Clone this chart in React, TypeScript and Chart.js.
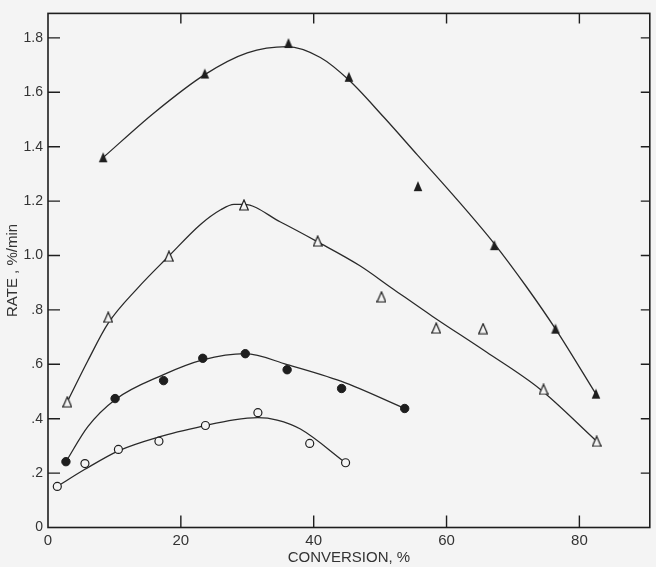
import { useEffect, useRef } from 'react';
import { Chart, registerables } from 'chart.js';

Chart.register(...registerables);

// Axis tick labels
const X_TICK_LABELS = ['0', '20', '40', '60', '80'];
const Y_TICK_LABELS = ['0', '.2', '.4', '.6', '.8', '1.0', '1.2', '1.4', '1.6', '1.8'];

// Filled triangles
const FILLED_TRI_X = [8.3, 23.6, 36.2, 45.3, 55.7, 67.2, 76.4, 82.5];
const FILLED_TRI_Y = [1.361, 1.669, 1.781, 1.657, 1.255, 1.038, 0.731, 0.492];
// Open triangles
const OPEN_TRI_X = [2.9, 9.07, 18.2, 29.5, 40.6, 50.2, 58.45, 65.5, 74.6, 82.6];
const OPEN_TRI_Y = [0.462, 0.773, 0.997, 1.186, 1.053, 0.848, 0.733, 0.731, 0.508, 0.317];
// Filled circles
const FILLED_CIR_X = [2.7, 10.1, 17.4, 23.3, 29.7, 36.0, 44.2, 53.7];
const FILLED_CIR_Y = [0.242, 0.474, 0.54, 0.622, 0.639, 0.58, 0.511, 0.4375];
// Open circles
const OPEN_CIR_X = [1.4, 5.56, 10.6, 16.7, 23.7, 31.6, 39.4, 44.8];
const OPEN_CIR_Y = [0.151, 0.235, 0.287, 0.317, 0.375, 0.422, 0.309, 0.238];

// Hand-drawn fitted curves
const CURVE_A_X = [8.3, 16, 23.6, 30, 36, 41, 45.3, 50.5, 55.6, 61, 67.2, 72, 76.4, 82.5];
const CURVE_A_Y = [1.36, 1.525, 1.665, 1.745, 1.768, 1.728, 1.645, 1.51, 1.37, 1.222, 1.043, 0.886, 0.73, 0.49];
const CURVE_B_X = [2.9, 6, 9.07, 13.5, 18.2, 23, 26, 28, 29.5, 35, 40.6, 46.9, 52, 57.9, 66, 74, 82.6];
const CURVE_B_Y = [0.462, 0.613, 0.751, 0.88, 0.998, 1.115, 1.168, 1.188, 1.188, 1.123, 1.05, 0.963, 0.876, 0.776, 0.645, 0.51, 0.317];
const CURVE_C_X = [2.7, 6, 10.1, 17.4, 23.3, 29.7, 36, 44.2, 53.7];
const CURVE_C_Y = [0.242, 0.371, 0.47, 0.562, 0.616, 0.639, 0.599, 0.537, 0.4375];
const CURVE_D_X = [1.4, 5.5, 10.6, 16.7, 23.7, 28, 31.6, 34.5, 38, 44.8];
const CURVE_D_Y = [0.151, 0.213, 0.282, 0.333, 0.375, 0.396, 0.404, 0.395, 0.362, 0.238];

const BG = '#f4f4f4';
const INK = '#1e1e1e';
const LINE = '#2a2a2a';
const FONT = "'Liberation Sans', Arial, sans-serif";

const pts = (xs: number[], ys: number[]) => xs.map((x, i) => ({ x, y: ys[i] }));

function makeTriangle(filled: boolean): HTMLCanvasElement {
  const c = document.createElement('canvas');
  c.width = 10;
  c.height = 12;
  const ctx = c.getContext('2d')!;
  ctx.beginPath();
  ctx.moveTo(5, 1);
  ctx.lineTo(9.3, 11);
  ctx.lineTo(0.7, 11);
  ctx.closePath();
  if (filled) {
    ctx.fillStyle = INK;
    ctx.fill();
  } else {
    ctx.fillStyle = BG;
    ctx.fill();
    ctx.strokeStyle = INK;
    ctx.lineWidth = 1.2;
    ctx.stroke();
  }
  return c;
}

const bgPlugin = {
  id: 'bg',
  beforeDraw(chart: any) {
    const ctx = chart.ctx;
    ctx.save();
    ctx.fillStyle = BG;
    ctx.fillRect(0, 0, chart.width, chart.height);
    ctx.restore();
  },
};

const framePlugin = {
  id: 'frame',
  afterDraw(chart: any) {
    const { ctx, chartArea } = chart;
    const { left, right, top, bottom } = chartArea;
    const xs = chart.scales.x;
    const ys = chart.scales.y;
    ctx.save();
    ctx.strokeStyle = INK;
    ctx.lineWidth = 1.6;
    ctx.strokeRect(left, top, right - left, bottom - top);
    ctx.lineWidth = 1.4;
    ctx.beginPath();
    xs.ticks.forEach((t: any) => {
      if (t.value === 0) return;
      const px = xs.getPixelForValue(t.value);
      ctx.moveTo(px, bottom);
      ctx.lineTo(px, bottom - 12);
      ctx.moveTo(px, top);
      ctx.lineTo(px, top + 10);
    });
    ys.ticks.forEach((t: any) => {
      if (t.value === 0) return;
      const py = ys.getPixelForValue(t.value);
      ctx.moveTo(left, py);
      ctx.lineTo(left + 12, py);
      ctx.moveTo(right, py);
      ctx.lineTo(right - 9, py);
    });
    ctx.stroke();
    ctx.restore();
  },
};

export default function App() {
  const ref = useRef<HTMLCanvasElement | null>(null);

  useEffect(() => {
    if (!ref.current) return;
    const filledTri = makeTriangle(true);
    const openTri = makeTriangle(false);

    const markerBase = { showLine: false, pointHoverRadius: 5 };
    const curveBase = {
      showLine: true,
      pointRadius: 0,
      pointHoverRadius: 0,
      borderColor: LINE,
      borderWidth: 1.3,
      cubicInterpolationMode: 'monotone' as const,
      fill: false,
    };

    const chart = new Chart(ref.current, {
      type: 'scatter',
      data: {
        datasets: [
          { ...markerBase, data: pts(FILLED_TRI_X, FILLED_TRI_Y), pointStyle: filledTri, pointRadius: 5 },
          { ...markerBase, data: pts(OPEN_TRI_X, OPEN_TRI_Y), pointStyle: openTri, pointRadius: 5 },
          {
            ...markerBase,
            data: pts(FILLED_CIR_X, FILLED_CIR_Y),
            pointStyle: 'circle',
            pointRadius: 4.2,
            backgroundColor: INK,
            borderColor: INK,
            borderWidth: 1,
          },
          {
            ...markerBase,
            data: pts(OPEN_CIR_X, OPEN_CIR_Y),
            pointStyle: 'circle',
            pointRadius: 4,
            backgroundColor: BG,
            borderColor: INK,
            borderWidth: 1.2,
          },
          { ...curveBase, data: pts(CURVE_A_X, CURVE_A_Y) },
          { ...curveBase, data: pts(CURVE_B_X, CURVE_B_Y) },
          { ...curveBase, data: pts(CURVE_C_X, CURVE_C_Y) },
          { ...curveBase, data: pts(CURVE_D_X, CURVE_D_Y) },
        ],
      },
      options: {
        responsive: false,
        animation: false,
        devicePixelRatio: 1,
        layout: { padding: { left: 0, right: 6, top: 5, bottom: 0 } },
        plugins: { legend: { display: false }, tooltip: { enabled: false } },
        scales: {
          x: {
            type: 'linear',
            min: 0,
            max: 90.6,
            grid: { display: false, drawTicks: false },
            border: { display: false },
            ticks: {
              stepSize: 20,
              includeBounds: false,
              padding: 4,
              color: '#333',
              font: { family: FONT, size: 15 },
              maxRotation: 0,
              callback: (_v: any, i: number) => X_TICK_LABELS[i],
            },
            title: {
              display: true,
              text: 'CONVERSION, %',
              color: '#333',
              font: { family: FONT, size: 15 },
              padding: { top: 0, bottom: 0 },
            },
            afterFit: (s: any) => {
              s.height = 39.5;
            },
          },
          y: {
            type: 'linear',
            min: 0,
            max: 1.89,
            grid: { display: false, drawTicks: false },
            border: { display: false },
            ticks: {
              stepSize: 0.2,
              includeBounds: false,
              padding: 5,
              color: '#333',
              font: { family: FONT, size: 14 },
              callback: (_v: any, i: number) => Y_TICK_LABELS[i],
            },
            title: {
              display: true,
              text: 'RATE , %/min',
              color: '#333',
              font: { family: FONT, size: 15 },
              padding: { top: 4, bottom: 0 },
            },
            afterFit: (s: any) => {
              s.width = 48;
            },
          },
        },
      },
      plugins: [bgPlugin, framePlugin],
    });
    return () => chart.destroy();
  }, []);

  return (
    <div style={{ position: 'fixed', left: 0, top: 0, width: 656, height: 567, background: BG }}>
      <canvas ref={ref} width={656} height={567} style={{ display: 'block' }} />
    </div>
  );
}
